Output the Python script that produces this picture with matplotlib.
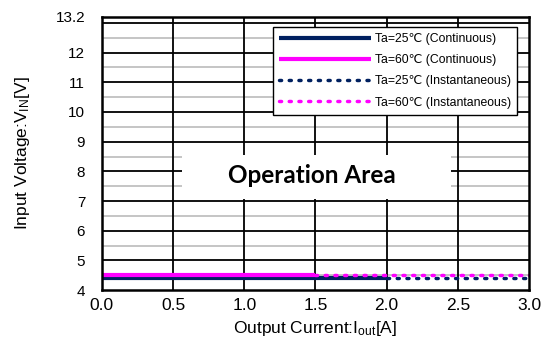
import matplotlib
matplotlib.use("Agg")
import matplotlib.pyplot as plt
from matplotlib.patches import Rectangle
import numpy as np

plt.rcParams['font.family'] = ['Liberation Sans', 'DejaVu Sans']
plt.rcParams['mathtext.default'] = 'regular'

# data
cont25_x = [0.0, 2.0]
cont25_y = [4.4, 4.4]
cont60_x = [0.0, 1.5]
cont60_y = [4.5, 4.5]
inst25_x = [2.0, 3.0]
inst25_y = [4.4, 4.4]
inst60_x = [1.5, 3.0]
inst60_y = [4.5, 4.5]
labels = ["Ta=25\u2103 (Continuous)", "Ta=60\u2103 (Continuous)",
          "Ta=25\u2103 (Instantaneous)", "Ta=60\u2103 (Instantaneous)"]
xticks = [0.0, 0.5, 1.0, 1.5, 2.0, 2.5, 3.0]
yticks = [4, 5, 6, 7, 8, 9, 10, 11, 12, 13.2]
ytick_labels = ["4", "5", "6", "7", "8", "9", "10", "11", "12", "13.2"]

navy = "#002060"
mag = "#FF00FF"

fig = plt.figure(figsize=(5.42, 3.53), dpi=100)
ax = fig.add_axes([0.188, 0.178, 0.788, 0.774])
ax.set_xlim(0, 3.0)
ax.set_ylim(4, 13.2)

# grid
for y in np.arange(4.5, 13.0, 1.0):
    ax.axhline(y, color="#c0c0c0", lw=1.3, zorder=1)
for y in range(5, 14):
    ax.axhline(y, color="black", lw=1.3, zorder=1)
for x in xticks[1:-1]:
    ax.axvline(x, color="black", lw=1.3, zorder=1)

# operation area box (white background)
ax.add_patch(Rectangle((0.56, 7.08), 1.89, 1.47, facecolor="white", edgecolor="none", zorder=2))
ax.text(1.475, 7.85, "Operation Area", fontsize=17.5, fontweight="bold",
        family=["Lato", "DejaVu Sans"], ha="center", va="center", zorder=3)

l1, = ax.plot(cont25_x, cont25_y, color=navy, lw=3, solid_capstyle="butt", zorder=4)
l2, = ax.plot(cont60_x, cont60_y, color=mag, lw=3, solid_capstyle="butt", zorder=4)
l3, = ax.plot(inst25_x, inst25_y, color=navy, lw=2.5, linestyle=(0, (0.6, 2.2)),
              dash_capstyle="round", zorder=4)
l4, = ax.plot(inst60_x, inst60_y, color=mag, lw=2.5, linestyle=(0, (0.6, 2.2)),
              dash_capstyle="round", zorder=4)

ax.set_xticks(xticks)
ax.set_xticklabels([f"{v:.1f}" for v in xticks], fontsize=12.5)
ax.set_yticks(yticks)
ax.set_yticklabels(ytick_labels, fontsize=11)
ax.tick_params(axis="both", length=0)
ax.tick_params(axis="x", pad=6)
ax.tick_params(axis="y", pad=12)
for s in ax.spines.values():
    s.set_linewidth(1.8)
    s.set_color("black")
    s.set_zorder(5)

ax.set_xlabel("Output Current:I$_{out}$[A]", fontsize=12.5, labelpad=4)
ax.set_ylabel("Input Voltage:V$_{IN}$[V]", fontsize=12.5, labelpad=17)

leg = ax.legend([l1, l2, l3, l4], labels, loc="upper right",
                bbox_to_anchor=(0.972, 0.963), borderaxespad=0,
                fontsize=8.8, frameon=True,
                fancybox=False, framealpha=1, edgecolor="black",
                handlelength=7.5, handletextpad=0.3, labelspacing=0.75,
                borderpad=0.5)
leg.get_frame().set_linewidth(1.0)
leg.set_zorder(6)

fig.savefig("out.png", dpi=100)
